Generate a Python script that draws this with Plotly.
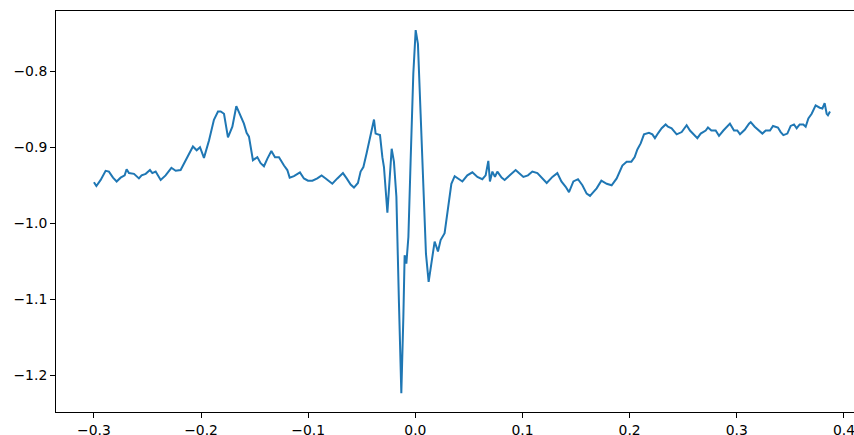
import plotly.graph_objects as go

# signal samples (x, y)
x_vals = [
    -0.3000, -0.2977, -0.2937, -0.2891, -0.2860, -0.2822, -0.2788, -0.2751, -0.2713, -0.2695,
    -0.2673, -0.2626, -0.2580, -0.2555, -0.2517, -0.2477, -0.2455, -0.2424, -0.2377, -0.2331,
    -0.2277, -0.2237, -0.2191, -0.2144, -0.2113, -0.2076, -0.2041, -0.2010, -0.1973, -0.1926,
    -0.1880, -0.1842, -0.1817, -0.1786, -0.1749, -0.1708, -0.1671, -0.1637, -0.1600, -0.1575,
    -0.1553, -0.1516, -0.1475, -0.1444, -0.1413, -0.1381, -0.1344, -0.1310, -0.1273, -0.1226,
    -0.1195, -0.1173, -0.1133, -0.1077, -0.1040, -0.1002, -0.0961, -0.0915, -0.0875, -0.0837,
    -0.0775, -0.0728, -0.0676, -0.0641, -0.0604, -0.0573, -0.0536, -0.0511, -0.0485, -0.0455,
    -0.0417, -0.0386, -0.0371, -0.0330, -0.0308, -0.0293, -0.0261, -0.0246, -0.0221, -0.0200,
    -0.0177, -0.0153, -0.0131, -0.0112, -0.0100, -0.0084, -0.0065, -0.0044, -0.0019, 0.0003,
    0.0024, 0.0049, 0.0075, 0.0099, 0.0124, 0.0149, 0.0180, 0.0211, 0.0236, 0.0273,
    0.0299, 0.0336, 0.0367, 0.0407, 0.0439, 0.0485, 0.0532, 0.0579, 0.0625, 0.0656,
    0.0681, 0.0696, 0.0719, 0.0743, 0.0765, 0.0805, 0.0833, 0.0889, 0.0936, 0.0967,
    0.1008, 0.1051, 0.1092, 0.1139, 0.1185, 0.1226, 0.1279, 0.1325, 0.1363, 0.1403,
    0.1434, 0.1475, 0.1518, 0.1559, 0.1599, 0.1630, 0.1661, 0.1692, 0.1736, 0.1786,
    0.1832, 0.1879, 0.1932, 0.1972, 0.2016, 0.2047, 0.2072, 0.2103, 0.2134, 0.2180,
    0.2212, 0.2236, 0.2268, 0.2299, 0.2336, 0.2358, 0.2392, 0.2439, 0.2486, 0.2532,
    0.2563, 0.2600, 0.2632, 0.2663, 0.2710, 0.2731, 0.2763, 0.2803, 0.2834, 0.2875,
    0.2912, 0.2936, 0.2974, 0.3005, 0.3030, 0.3074, 0.3114, 0.3130, 0.3167, 0.3207,
    0.3239, 0.3270, 0.3310, 0.3338, 0.3363, 0.3384, 0.3410, 0.3435, 0.3472, 0.3503,
    0.3534, 0.3559, 0.3587, 0.3621, 0.3643, 0.3668, 0.3699, 0.3736, 0.3774, 0.3799,
    0.3820, 0.3839, 0.3851, 0.3870,
]
y_vals = [
    -0.946, -0.951, -0.943, -0.931, -0.932, -0.940, -0.945, -0.940, -0.937, -0.929,
    -0.934, -0.935, -0.941, -0.937, -0.935, -0.930, -0.934, -0.932, -0.943, -0.937,
    -0.927, -0.931, -0.930, -0.917, -0.908, -0.899, -0.904, -0.900, -0.914, -0.891,
    -0.864, -0.853, -0.853, -0.856, -0.887, -0.873, -0.846, -0.858, -0.869, -0.881,
    -0.886, -0.917, -0.913, -0.921, -0.925, -0.915, -0.905, -0.913, -0.913, -0.924,
    -0.930, -0.940, -0.938, -0.933, -0.941, -0.944, -0.944, -0.941, -0.937, -0.941,
    -0.948, -0.941, -0.934, -0.941, -0.949, -0.953, -0.947, -0.932, -0.926, -0.908,
    -0.882, -0.8635, -0.882, -0.884, -0.913, -0.926, -0.986, -0.952, -0.902, -0.919,
    -0.965, -1.105, -1.2235, -1.123, -1.042, -1.053, -1.018, -0.917, -0.803, -0.746,
    -0.764, -0.856, -0.952, -1.040, -1.077, -1.053, -1.024, -1.037, -1.022, -1.013,
    -0.983, -0.948, -0.938, -0.942, -0.945, -0.937, -0.933, -0.939, -0.942, -0.937,
    -0.918, -0.945, -0.932, -0.939, -0.932, -0.940, -0.943, -0.936, -0.930, -0.934,
    -0.939, -0.937, -0.932, -0.934, -0.941, -0.947, -0.939, -0.934, -0.945, -0.952,
    -0.959, -0.945, -0.942, -0.950, -0.961, -0.964, -0.959, -0.954, -0.944, -0.948,
    -0.950, -0.941, -0.924, -0.919, -0.919, -0.913, -0.903, -0.895, -0.883, -0.881,
    -0.883, -0.888, -0.881, -0.875, -0.870, -0.873, -0.875, -0.883, -0.880, -0.871,
    -0.878, -0.883, -0.888, -0.882, -0.878, -0.874, -0.878, -0.878, -0.885, -0.878,
    -0.873, -0.869, -0.878, -0.878, -0.883, -0.877, -0.869, -0.867, -0.873, -0.878,
    -0.882, -0.878, -0.878, -0.872, -0.873, -0.874, -0.880, -0.884, -0.882, -0.872,
    -0.870, -0.875, -0.870, -0.870, -0.873, -0.862, -0.856, -0.845, -0.848, -0.849,
    -0.842, -0.856, -0.858, -0.853,
]

x_ticks = [-0.3, -0.2, -0.1, 0.0, 0.1, 0.2, 0.3, 0.4]
y_ticks = [-0.8, -0.9, -1.0, -1.1, -1.2]

fig = go.Figure()
fig.add_trace(go.Scatter(
    x=x_vals, y=y_vals, mode="lines",
    line=dict(color="#1f77b4", width=2),
    showlegend=False, hoverinfo="skip",
))

axis_font = dict(family="DejaVu Sans", size=13.9, color="#000000")

fig.update_layout(
    width=854, height=435,
    margin=dict(l=56, r=0, t=11, b=23),
    paper_bgcolor="white", plot_bgcolor="white",
    xaxis=dict(
        range=[-0.3354, 0.4094], tickvals=x_ticks, tickformat=".1f",
        showgrid=False, zeroline=False, automargin=False,
        ticklabeloverflow="allow",
        showline=True, linecolor="#000000", linewidth=1, mirror=True,
        ticks="outside", ticklen=5, tickwidth=1, tickcolor="#000000",
        tickfont=axis_font,
    ),
    yaxis=dict(
        range=[-1.2482, -0.7208], tickvals=y_ticks, tickformat=".1f",
        showgrid=False, zeroline=False, automargin=False,
        showline=True, linecolor="#000000", linewidth=1, mirror=False,
        ticks="outside", ticklen=5, tickwidth=1, tickcolor="#000000",
        tickfont=axis_font,
    ),
)

fig.write_html(
    "out.html",
    config={"displayModeBar": False, "staticPlot": True},
    post_script="document.body.style.margin='0';document.body.style.overflow='hidden';",
)
